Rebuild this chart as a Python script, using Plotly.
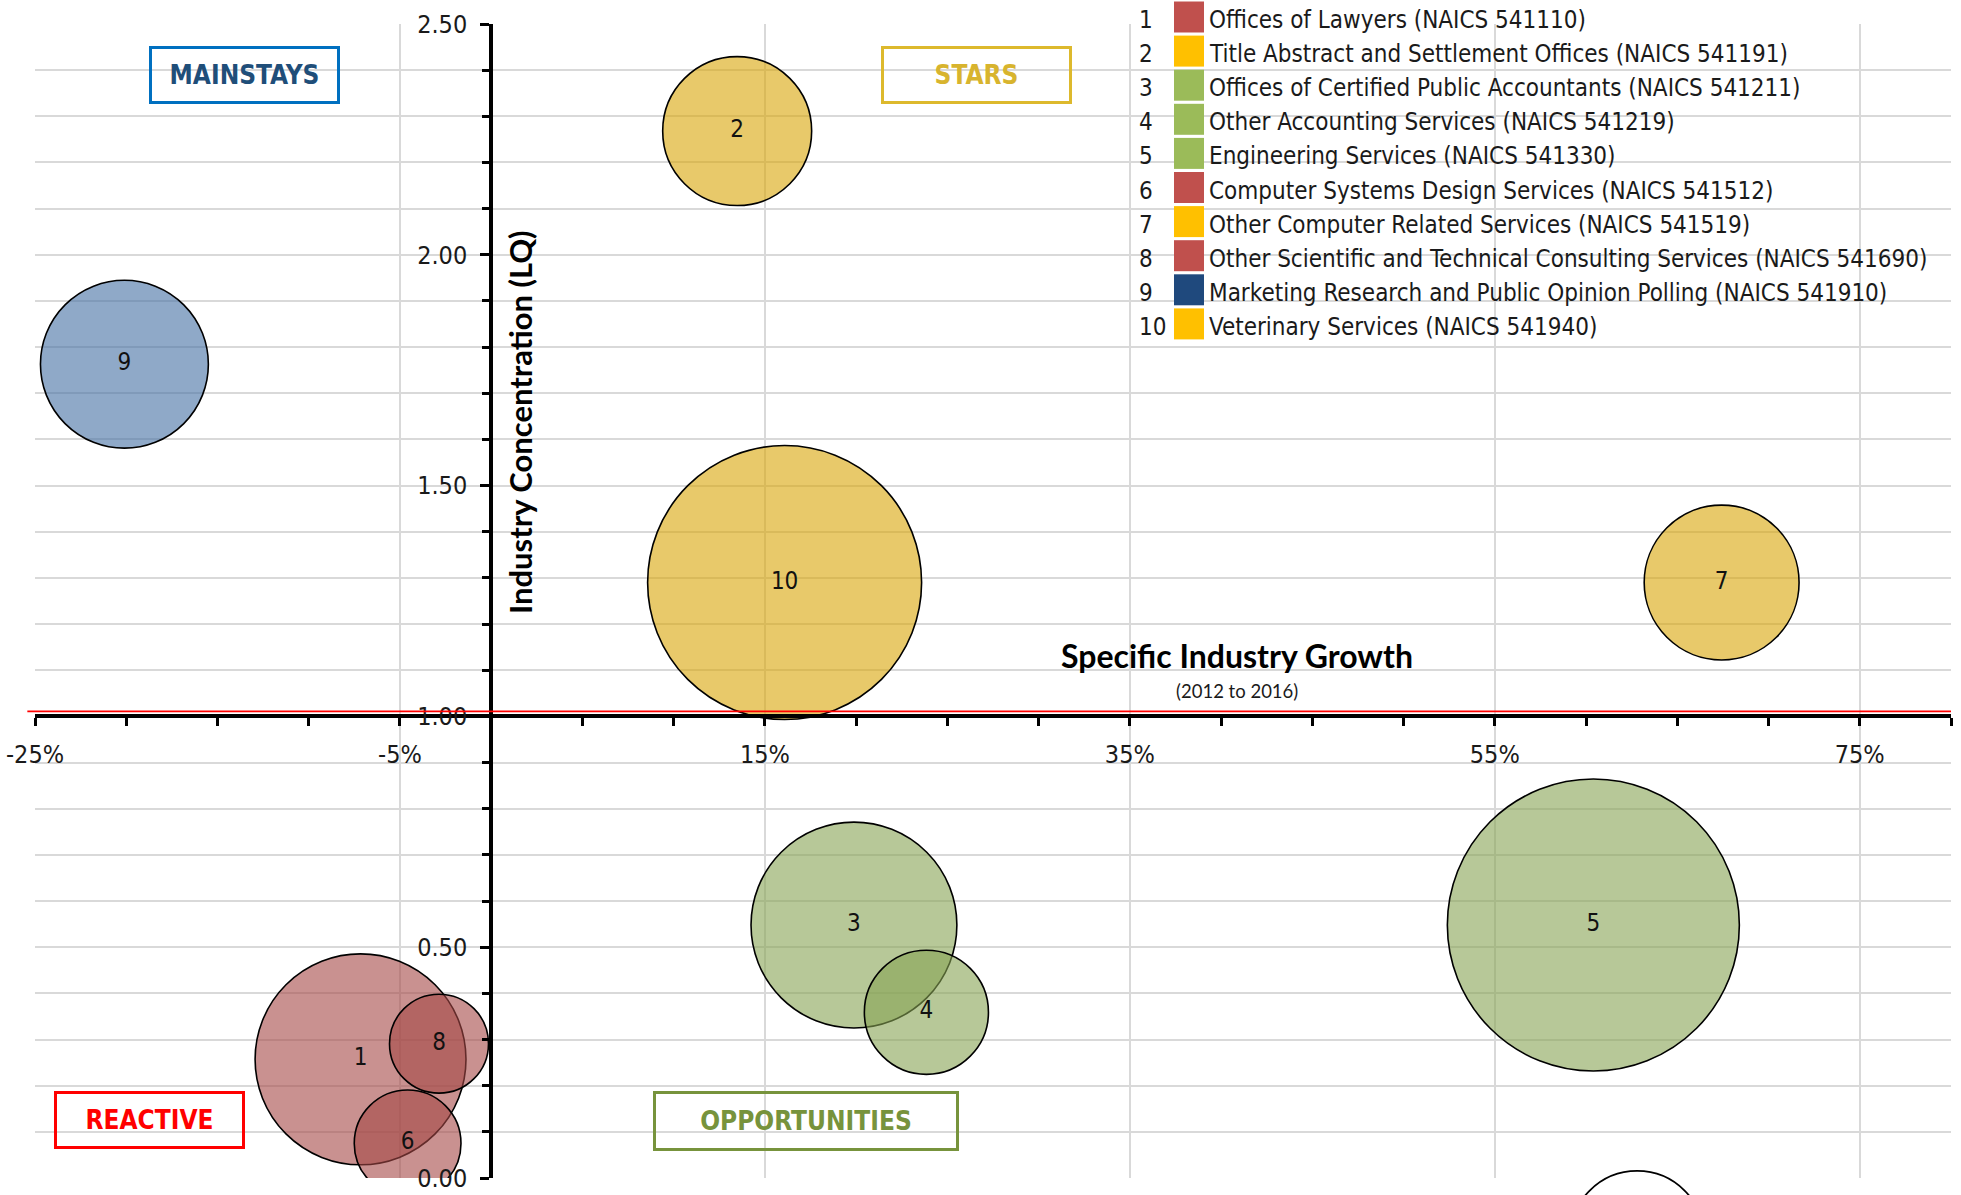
import plotly.graph_objects as go

# ---- data -------------------------------------------------------------
ids = [1, 2, 3, 4, 5, 6, 7, 8, 9, 10]
industries = [
    "Offices of Lawyers (NAICS 541110)",
    "Title Abstract and Settlement Offices (NAICS 541191)",
    "Offices of Certified Public Accountants (NAICS 541211)",
    "Other Accounting Services (NAICS 541219)",
    "Engineering Services (NAICS 541330)",
    "Computer Systems Design Services (NAICS 541512)",
    "Other Computer Related Services (NAICS 541519)",
    "Other Scientific and Technical Consulting Services (NAICS 541690)",
    "Marketing Research and Public Opinion Polling (NAICS 541910)",
    "Veterinary Services (NAICS 541940)",
]
growth = [-0.0716, 0.1348, 0.1988, 0.2385, 0.6040, -0.0458, 0.6743, -0.0286, -0.2010, 0.1608]
lq = [0.257, 2.268, 0.548, 0.359, 0.548, 0.075, 1.290, 0.291, 1.763, 1.290]
bubble_size = [44.5, 22.2, 42.4, 15.4, 85.3, 11.4, 24.0, 9.8, 28.2, 75.1]
quadrant = ["reactive", "stars", "opportunities", "opportunities", "opportunities",
            "reactive", "stars", "reactive", "mainstays", "stars"]

# unlabeled outline bubble below the axis
extra_growth = [0.628]
extra_lq = [-0.13]
extra_size = [18.0]

x_ticks = [-0.25, -0.05, 0.15, 0.35, 0.55, 0.75]
x_tick_text = ["%d%%" % round(v * 100) for v in x_ticks]
y_ticks = [0.0, 0.5, 1.0, 1.5, 2.0, 2.5]

# ---- styling ----------------------------------------------------------
legend_color = {"reactive": "#C0504D", "stars": "#FFC000",
                "opportunities": "#9BBB59", "mainstays": "#1F497D"}
fill_color = {"reactive": "rgba(165,72,70,0.6)", "stars": "rgba(217,165,7,0.6)",
              "opportunities": "rgba(135,163,83,0.6)", "mainstays": "rgba(68,112,163,0.6)"}

NARROW = "DejaVu Sans Condensed, Liberation Sans Narrow, sans-serif"
BOLD = "Lato, Open Sans, sans-serif"

W, H = 1961, 1195
PL, PR, PT, PB = 35, 1951, 24, 1178   # pixel edges of the chart area
X_RANGE = [-0.25, 0.80]
Y_RANGE = [0.0, 2.5]

# paper spans from PT down to the page bottom; main subplot stops at PB
paper_h = H - PT
y_dom0 = (H - PB) / paper_h
px_per_unit = (PB - PT) / (Y_RANGE[1] - Y_RANGE[0])
Y2_RANGE = [Y_RANGE[0] - (H - PB) / px_per_unit, Y_RANGE[1]]


def fx(px):
    return (px - PL) / (PR - PL)


def fy(py):
    return (H - py) / paper_h


MAX_DIAM = 292
sizeref = 2.0 * max(bubble_size) / MAX_DIAM ** 2

fig = go.Figure()

fig.add_trace(go.Scatter(
    x=growth, y=lq, mode="markers+text",
    text=[str(i) for i in ids], textposition="middle center",
    textfont=dict(family=NARROW, size=24, color="#111111"),
    marker=dict(size=bubble_size, sizemode="area", sizeref=sizeref, opacity=1,
                color=[fill_color[q] for q in quadrant],
                line=dict(color="black", width=1.6)),
    hovertext=industries, hoverinfo="text",
    cliponaxis=True, showlegend=False,
))

fig.add_trace(go.Scatter(
    x=extra_growth, y=extra_lq, xaxis="x2", yaxis="y2", mode="markers",
    marker=dict(size=extra_size, sizemode="area", sizeref=sizeref, opacity=1,
                color="white", line=dict(color="black", width=1.8)),
    cliponaxis=True, showlegend=False, hoverinfo="skip",
))

x_zero_pos = (0 - X_RANGE[0]) / (X_RANGE[1] - X_RANGE[0])
y_one_pos = y_dom0 + (1.0 - Y_RANGE[0]) / (Y_RANGE[1] - Y_RANGE[0]) * (1 - y_dom0)

tickfont = dict(family=NARROW, size=25, color="#1a1a1a")

fig.update_layout(
    width=W, height=H,
    margin=dict(l=PL, r=W - PR, t=PT, b=0, pad=0, autoexpand=False),
    paper_bgcolor="white", plot_bgcolor="rgba(0,0,0,0)",
    xaxis=dict(
        range=X_RANGE, domain=[0, 1], anchor="free", position=y_one_pos,
        tickmode="array", tickvals=x_ticks, ticktext=x_tick_text,
        ticks="outside", ticklen=8, tickwidth=3, tickcolor="black",
        ticklabelstandoff=7, ticklabeloverflow="allow",
        tickfont=tickfont,
        showgrid=True, gridcolor="#d9d9d9", gridwidth=1.5,
        minor=dict(dtick=0.05, tick0=-0.25, ticks="outside", ticklen=8,
                   tickwidth=3, tickcolor="black", showgrid=False),
        showline=True, linecolor="black", linewidth=4,
        zeroline=False, layer="above traces",
    ),
    yaxis=dict(
        range=Y_RANGE, domain=[y_dom0, 1], anchor="free", position=x_zero_pos,
        tickmode="array", tickvals=y_ticks, tickformat=".2f",
        ticks="outside", ticklen=9, tickwidth=3, tickcolor="black",
        ticklabelstandoff=8, ticklabeloverflow="allow",
        tickfont=tickfont,
        showgrid=True, gridcolor="#d9d9d9", gridwidth=1.5,
        minor=dict(dtick=0.1, tick0=0, ticks="outside", ticklen=7,
                   tickwidth=3, tickcolor="black", showgrid=True,
                   gridcolor="#d9d9d9", gridwidth=1.5),
        showline=True, linecolor="black", linewidth=4,
        zeroline=False, layer="above traces",
    ),
    xaxis2=dict(range=X_RANGE, domain=[0, 1], anchor="y2", visible=False),
    yaxis2=dict(range=Y2_RANGE, domain=[0, 1], anchor="x2", visible=False),
)

shapes = []
annotations = []

# threshold line at LQ = 1, drawn just above the axis line
shapes.append(dict(type="line", xref="paper", yref="y", x0=-0.004, x1=1.0,
                   y0=1.011, y1=1.011, line=dict(color="#FF0000", width=1.8),
                   layer="above"))

# white panel behind the key
shapes.append(dict(type="rect", xref="paper", yref="paper",
                   x0=fx(1134), x1=fx(1975), y0=fy(344), y1=fy(-10),
                   fillcolor="white", line=dict(width=0), layer="between"))

# key: number, colour swatch and industry name per row
ROW0, PITCH, SW = 17, 34.1, 31
TEXT_DY = 3
keyfont = dict(family=NARROW, size=24, color="#1a1a1a")
for i, (n, name, q) in enumerate(zip(ids, industries, quadrant)):
    cy = ROW0 + PITCH * i
    annotations.append(dict(xref="paper", yref="paper", x=fx(1137), y=fy(cy + TEXT_DY),
                            xanchor="left", yanchor="middle", showarrow=False,
                            text=str(n), font=keyfont))
    shapes.append(dict(type="rect", xref="paper", yref="paper",
                       x0=fx(1174), x1=fx(1204), y0=fy(cy + SW / 2), y1=fy(cy - SW / 2),
                       fillcolor=legend_color[q], line=dict(width=0), layer="above"))
    annotations.append(dict(xref="paper", yref="paper", x=fx(1207), y=fy(cy + TEXT_DY),
                            xanchor="left", yanchor="middle", showarrow=False,
                            text=name, font=keyfont))

# quadrant labels
quad_boxes = [
    ("MAINSTAYS", 244.5, 75, 191, 58, "#0070C0", "#1F4E79"),
    ("STARS", 976, 74.5, 191, 58, "#DDB92D", "#D8B42E"),
    ("REACTIVE", 149.5, 1120, 191, 58, "#FF0000", "#FF0000"),
    ("OPPORTUNITIES", 806, 1121, 306, 60, "#77933C", "#77933C"),
]
for label, cx, cy, bw, bh, border, txt in quad_boxes:
    annotations.append(dict(xref="paper", yref="paper", x=fx(cx), y=fy(cy),
                            xanchor="center", yanchor="middle", showarrow=False,
                            text="<b>%s</b>" % label, width=bw - 6, height=bh - 6,
                            bordercolor=border, borderwidth=3, borderpad=0,
                            font=dict(family=NARROW, size=26, color=txt)))

# axis titles
annotations.append(dict(xref="paper", yref="paper", x=fx(520), y=fy(422),
                        xanchor="center", yanchor="middle", showarrow=False,
                        textangle=-90, text="<b>Industry Concentration (LQ)</b>",
                        font=dict(family=BOLD, size=31, color="black")))
annotations.append(dict(xref="paper", yref="paper", x=fx(1237), y=fy(656),
                        xanchor="center", yanchor="middle", showarrow=False,
                        text="<b>Specific Industry Growth</b>",
                        font=dict(family=BOLD, size=32, color="black")))
annotations.append(dict(xref="paper", yref="paper", x=fx(1237), y=fy(691),
                        xanchor="center", yanchor="middle", showarrow=False,
                        text="(2012 to 2016)",
                        font=dict(family=BOLD, size=18.5, color="#1a1a1a")))

fig.update_layout(shapes=shapes, annotations=annotations)

fig.write_html("out.html")
